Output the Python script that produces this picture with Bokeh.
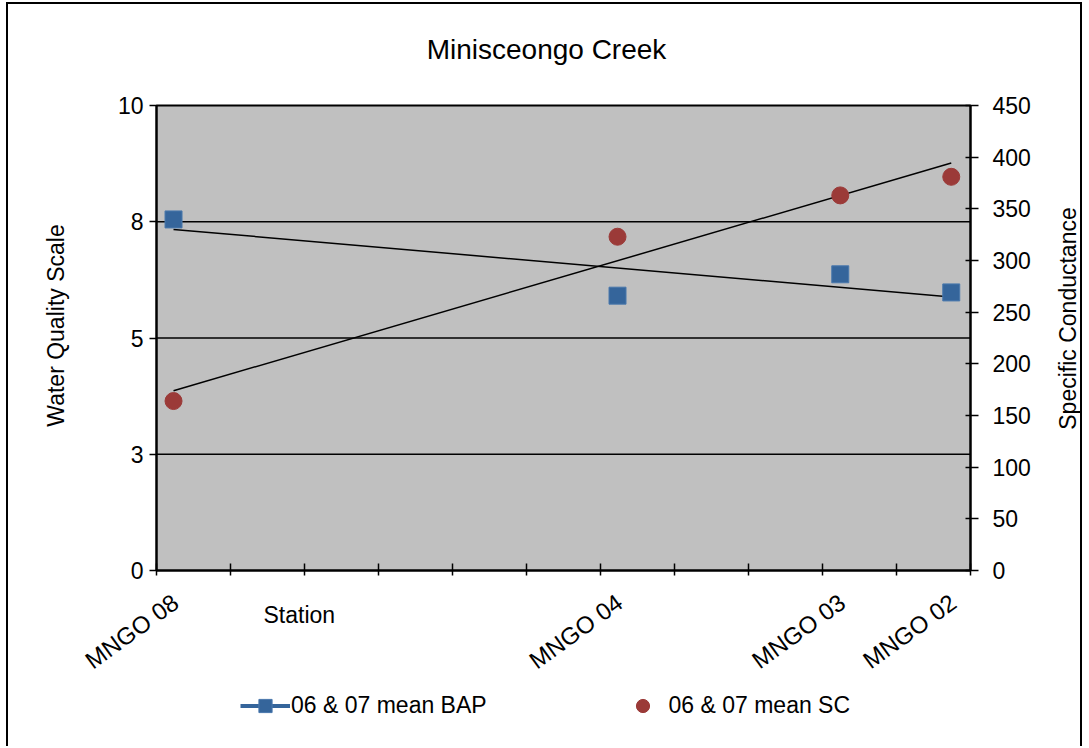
import numpy as np
from bokeh.plotting import figure
from bokeh.models import (Range1d, LinearAxis, FixedTicker, ColumnDataSource,
                          LabelSet, Label, Legend, LegendItem)
from bokeh.core.properties import value
from bokeh.embed import file_html
from bokeh.resources import INLINE

# ---- data ----
stations = ["MNGO 08", "MNGO 04", "MNGO 03", "MNGO 02"]
station_x = [0.23, 6.23, 9.24, 10.74]
bap = [7.55, 5.91, 6.37, 5.98]
sc = [164, 323, 363, 381]
left_ticks = [0, 2.5, 5, 7.5, 10]
left_tick_labels = ["0", "3", "5", "8", "10"]
grid_ticks = [2.5, 5, 7.5]
right_ticks = [0, 50, 100, 150, 200, 250, 300, 350, 400, 450]
x_ticks = [0, 1, 2, 3, 4, 5, 6, 7, 8, 9, 10, 11]
X_MAX, Y_MAX, SC_MAX = 11, 10, 450

# ---- layout (page pixels) ----
CX0, CY0, W, H = 8, 4, 1076, 744          # canvas position / size on page
L, R, T, B = 156, 970, 105, 570           # plot area on page
FONT = "Liberation Sans"
BLUE = "#35659B"
RED = "#9B3A38"

def sx(px):
    return px - CX0

def sy(py):
    return CY0 + H - py

kx = (R - L) / X_MAX
ky = (B - T) / Y_MAX
ks = (B - T) / SC_MAX
x_range = Range1d(-(L - CX0) / kx, X_MAX + (CX0 + W - R) / kx)
y_range = Range1d(-(CY0 + H - B) / ky, Y_MAX + (T - CY0) / ky)
sc_range = Range1d(-(CY0 + H - B) / ks, SC_MAX + (T - CY0) / ks)

p = figure(width=W, height=H, x_range=x_range, y_range=y_range,
           output_backend="svg", toolbar_location=None, min_border=0)
p.styles = {"border-top": "2px solid black", "border-left": "2px solid black",
            "border-right": "2px solid black", "margin-left": "6px", "margin-top": "2px"}
p.extra_y_ranges = {"sc": sc_range}
p.background_fill_color = "white"
p.border_fill_color = "white"
p.outline_line_color = None
p.xgrid.visible = False
p.ygrid.visible = False

# plot area background + grid
p.quad(left=0, right=X_MAX, bottom=0, top=Y_MAX, fill_color="#C0C0C0",
       line_color="black", line_width=2)
p.segment(x0=[0] * len(grid_ticks), x1=[X_MAX] * len(grid_ticks), y0=grid_ticks,
          y1=grid_ticks, line_color="black", line_width=1.5)

# left axis
ya = p.yaxis[0]
ya.fixed_location = 0
ya.bounds = (0, Y_MAX)
ya.ticker = FixedTicker(ticks=left_ticks)
ya.major_label_overrides = {t: l for t, l in zip(left_ticks, left_tick_labels)}
ya.major_tick_in = 0
ya.major_tick_out = 7
ya.minor_tick_line_color = None
ya.axis_line_width = 2
ya.major_tick_line_width = 1.5
ya.major_label_text_font = FONT
ya.major_label_text_font_size = "23px"
ya.major_label_text_color = "black"
ya.major_label_standoff = 6

# right axis
ra = LinearAxis(y_range_name="sc", ticker=FixedTicker(ticks=right_ticks),
                fixed_location=X_MAX, bounds=(0, SC_MAX))
ra.major_tick_in = 5
ra.major_tick_out = 8
ra.minor_tick_line_color = None
ra.axis_line_width = 2
ra.major_tick_line_width = 1.5
ra.major_label_text_font = FONT
ra.major_label_text_font_size = "23px"
ra.major_label_text_color = "black"
ra.major_label_standoff = 14
p.add_layout(ra, "right")

# x axis (unlabelled tick marks only)
xa = p.xaxis[0]
xa.fixed_location = 0
xa.bounds = (0, X_MAX)
xa.ticker = FixedTicker(ticks=[], minor_ticks=x_ticks)
xa.major_tick_line_color = None
xa.minor_tick_line_color = "black"
xa.minor_tick_in = 7
xa.minor_tick_out = 5
xa.minor_tick_line_width = 1.5
xa.axis_line_width = 2

# trend lines (least squares)
bm, bb = np.polyfit(station_x, bap, 1)
sm, sb = np.polyfit(station_x, sc, 1)
tx = [station_x[0], station_x[-1]]
p.line(tx, [bm * v + bb for v in tx], line_color="black", line_width=1.5)
p.line(tx, [sm * v + sb for v in tx], line_color="black", line_width=1.5, y_range_name="sc")

src = ColumnDataSource(dict(x=station_x, bap=bap, sc=sc, name=stations, y0=[0] * len(stations)))
r_bap = p.scatter("x", "bap", source=src, marker="square", size=17,
                  fill_color=BLUE, line_color="#4a78ad", line_width=1)
r_sc = p.scatter("x", "sc", source=src, marker="circle", size=17,
                 fill_color=RED, line_color=RED, y_range_name="sc")
r_leg_line = p.line([np.nan], [np.nan], line_color=BLUE, line_width=4)

# station labels
p.add_layout(LabelSet(x="x", y="y0", text="name", source=src, angle=np.deg2rad(36),
                      text_align="right", text_baseline="middle", x_offset=2, y_offset=-29,
                      text_font=value(FONT), text_font_size=value("24px"), text_color="black"))

def screen_label(text, px, py, size="23px", angle=0.0, align="center"):
    return Label(x=sx(px), y=sy(py), x_units="screen", y_units="screen", text=text,
                 angle=angle, text_align=align, text_baseline="middle", text_font=FONT,
                 text_font_size=size, text_color="black")

p.add_layout(screen_label("Minisceongo Creek", 546, 49, size="28px"))
p.add_layout(screen_label("Station", 263, 614, align="left"))
p.add_layout(screen_label("Water Quality Scale", 55, 325, angle=np.pi / 2))
p.add_layout(screen_label("Specific Conductance", 1067, 318, angle=np.pi / 2))

common = dict(padding=0, margin=0, border_line_color=None, background_fill_alpha=0,
              label_text_font=FONT, label_text_font_size="23px", label_text_color="black",
              glyph_height=33, label_height=33)
leg1 = Legend(items=[LegendItem(label="06 & 07 mean BAP", renderers=[r_leg_line, r_bap])],
              location=(sx(240), sy(721.5)), glyph_width=50, label_standoff=1, **common)
leg2 = Legend(items=[LegendItem(label="06 & 07 mean SC", renderers=[r_sc])],
              location=(sx(625.5), sy(721.5)), glyph_width=33, label_standoff=10, **common)
p.add_layout(leg1)
p.add_layout(leg2)

open("out.html", "w").write(file_html(p, INLINE))
